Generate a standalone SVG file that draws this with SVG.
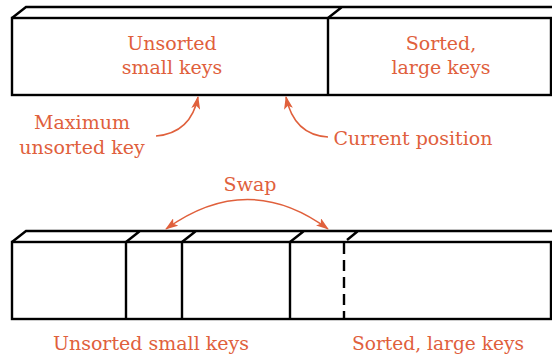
<svg xmlns="http://www.w3.org/2000/svg" width="552" height="356" viewBox="0 0 552 356">
<defs>
<style>
.box{fill:none;stroke:#000;stroke-width:2.4;stroke-linejoin:miter}
.ln{fill:none;stroke:#000;stroke-width:2.4}
.dash{fill:none;stroke:#000;stroke-width:2.4;stroke-dasharray:11 6}
.lbl{font-family:"DejaVu Serif","Liberation Serif",serif;font-size:19px;fill:#E0603C;text-anchor:middle}
.arr{fill:none;stroke:#E0603C;stroke-width:1.5}
</style>
<marker id="ah" viewBox="0 0 13 9" refX="12" refY="4.5" markerWidth="13" markerHeight="9" markerUnits="userSpaceOnUse" orient="auto-start-reverse">
<path d="M0,0 L13,4.5 L0,9 L3,4.5 Z" fill="#E0603C"/>
</marker>
</defs>
<rect width="552" height="356" fill="#fff"/>
<g id="top-array">
<rect class="box" x="12" y="18" width="539" height="77"/>
<path class="ln" d="M12,18 L26,7 L552,7 M328,18 L328,95 M328,18 L342,7"/>
</g>
<g id="top-unsorted">
<text class="lbl" x="172" y="50">Unsorted</text>
<text class="lbl" x="172" y="74">small keys</text>
</g>
<g id="top-sorted">
<text class="lbl" x="441" y="50">Sorted,</text>
<text class="lbl" x="441" y="74">large keys</text>
</g>
<g id="label-max">
<text class="lbl" x="82" y="129">Maximum</text>
<text class="lbl" x="82" y="154">unsorted key</text>
</g>
<g id="label-current">
<text class="lbl" x="413" y="145">Current position</text>
</g>
<g id="label-swap">
<text class="lbl" x="250" y="191">Swap</text>
</g>
<g id="bottom-array">
<rect class="box" x="12" y="242" width="539" height="77"/>
<path class="ln" d="M12,242 L26,231 L552,231 M126,242 L126,319 M126,242 L140,231 M182,242 L182,319 M182,242 L196,231 M290,242 L290,319 M290,242 L304,231 M347,240 L358,231"/>
<path class="dash" d="M344,243 L344,319"/>
</g>
<g id="bottom-labels">
<text class="lbl" x="151" y="350">Unsorted small keys</text>
<text class="lbl" x="438" y="350" style="font-size:18.6px">Sorted, large keys</text>
</g>
<g id="connectors">
<path class="arr" d="M156,136 Q191,133 198,97" marker-end="url(#ah)"/>
<path class="arr" d="M328,137 Q294,135 286,97" marker-end="url(#ah)"/>
<path class="arr" d="M166,229 Q248,170 328,229" marker-start="url(#ah)" marker-end="url(#ah)"/>
</g>
</svg>
